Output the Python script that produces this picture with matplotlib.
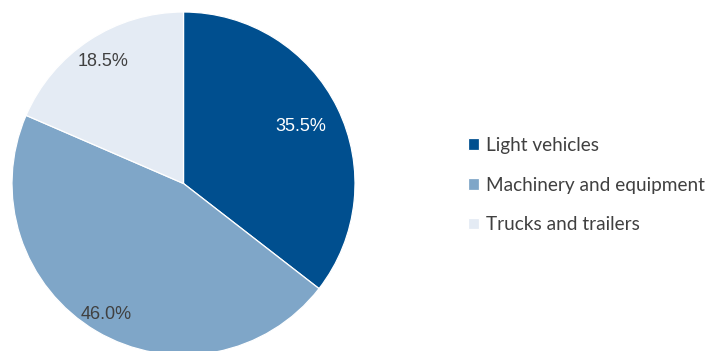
import matplotlib
matplotlib.use("Agg")
import matplotlib.pyplot as plt
import numpy as np

# Loan portfolio split by collateral type
categories = ["Light vehicles", "Machinery and equipment", "Trucks and trailers"]
shares = [35.5, 46.0, 18.5]

colors = ["#004F8F", "#7FA6C8", "#E4EBF4"]
label_colors = ["white", "#404040", "#404040"]
label_dist = [0.76, 0.89, 0.85]

fig = plt.figure(figsize=(7.10, 3.51), dpi=100)
fig.patch.set_facecolor("white")

W, H = 710, 351
cx, cy, r = 183.5, 351 - 183.5, 171.5
ax = fig.add_axes([(cx - r) / W, (cy - r) / H, 2 * r / W, 2 * r / H])

wedges, _ = ax.pie(shares, colors=colors, startangle=90, counterclock=False,
                   radius=1.0,
                   wedgeprops=dict(edgecolor="white", linewidth=0.9))
ax.set_xlim(-1, 1)
ax.set_ylim(-1, 1)
ax.axis("off")

for w, val, d, c in zip(wedges, shares, label_dist, label_colors):
    mid = np.deg2rad((w.theta1 + w.theta2) / 2)
    ax.text(d * np.cos(mid), d * np.sin(mid), f"{val:.1f}%",
            ha="center", va="center", fontsize=13, color=c,
            family="Liberation Sans")

fig.legend(wedges, categories, loc="center left",
           bbox_to_anchor=(451 / W, (351 - 185) / H), frameon=False,
           prop=dict(family="Lato", size=13.7), labelcolor="#404040",
           handlelength=0.55, handleheight=0.55, handletextpad=0.38,
           labelspacing=1.2)

fig.savefig("out.png", dpi=100, facecolor="white")
